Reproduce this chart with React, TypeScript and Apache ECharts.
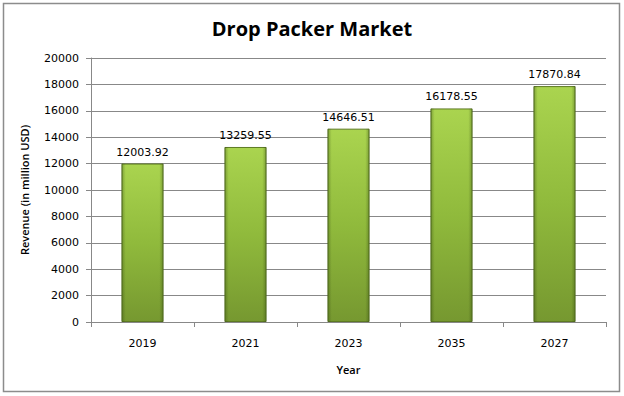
import React, { useEffect, useRef } from "react";
import * as echarts from "echarts";

const categories = ["2019", "2021", "2023", "2035", "2027"];
const revenue = [12003.92, 13259.55, 14646.51, 16178.55, 17870.84];
const yTicks = { min: 0, max: 20000, interval: 2000 };

export default function App() {
  const ref = useRef<HTMLDivElement>(null);
  useEffect(() => {
    document.body.style.margin = "0";
    const chart = echarts.init(ref.current!, null, { renderer: "svg" });
    const barColor = new echarts.graphic.LinearGradient(0, 0, 0, 1, [
      { offset: 0, color: "#aad44f" },
      { offset: 0.5, color: "#90ba3c" },
      { offset: 1, color: "#769830" },
    ]);
    const shade = new echarts.graphic.LinearGradient(0, 0, 1, 0, [
      { offset: 0, color: "rgba(40,60,10,0.35)" },
      { offset: 0.1, color: "rgba(40,60,10,0)" },
      { offset: 0.9, color: "rgba(40,60,10,0)" },
      { offset: 1, color: "rgba(40,60,10,0.35)" },
    ]);
    chart.setOption({
      animation: false,
      title: {
        text: "Drop Packer Market",
        left: "center",
        top: 13,
        textStyle: { fontFamily: "Open Sans", fontSize: 20, fontWeight: "bold", color: "#000" },
      },
      graphic: [
        {
          type: "rect",
          shape: { x: 3.5, y: 3.5, width: 616, height: 388 },
          style: { fill: "none", stroke: "#8c8c8c", lineWidth: 1.5 },
          silent: true,
          z: -1,
        },
      ],
      grid: { left: 91, right: 18, top: 58, bottom: 74 },
      xAxis: {
        type: "category",
        data: categories,
        name: "Year",
        nameLocation: "middle",
        nameGap: 42,
        nameTextStyle: { fontFamily: "Open Sans", fontSize: 11, fontWeight: 600, color: "#000" },
        axisLine: { lineStyle: { color: "#888" } },
        axisTick: { show: true, length: 5, lineStyle: { color: "#888" } },
        axisLabel: { fontFamily: "DejaVu Sans", fontSize: 11, color: "#000", margin: 16 },
      },
      yAxis: {
        type: "value",
        min: yTicks.min,
        max: yTicks.max,
        interval: yTicks.interval,
        name: "Revenue (in million USD)",
        nameLocation: "middle",
        nameGap: 61,
        nameTextStyle: { fontFamily: "Open Sans", fontSize: 11, fontWeight: 600, color: "#000" },
        axisLine: { show: true, lineStyle: { color: "#888" } },
        axisTick: { show: true, length: 5, lineStyle: { color: "#888" } },
        axisLabel: {
          fontFamily: "DejaVu Sans",
          fontSize: 11,
          color: "#000",
          margin: 12,
          formatter: (v: number) => String(v),
        },
        splitLine: { lineStyle: { color: "#888" } },
      },
      series: [
        {
          type: "bar",
          data: revenue,
          barWidth: 42,
          itemStyle: { color: barColor, borderColor: "#5d7a22", borderWidth: 1 },
          label: {
            show: true,
            position: "top",
            distance: 6,
            fontFamily: "DejaVu Sans",
            fontSize: 11,
            color: "#000",
            formatter: (p: any) => p.value.toFixed(2),
          },
          z: 2,
        },
        {
          type: "bar",
          data: revenue,
          barWidth: 42,
          barGap: "-100%",
          itemStyle: { color: shade },
          silent: true,
          z: 3,
        },
      ],
    });
    return () => chart.dispose();
  }, []);
  return <div ref={ref} style={{ width: 624, height: 396 }} />;
}
